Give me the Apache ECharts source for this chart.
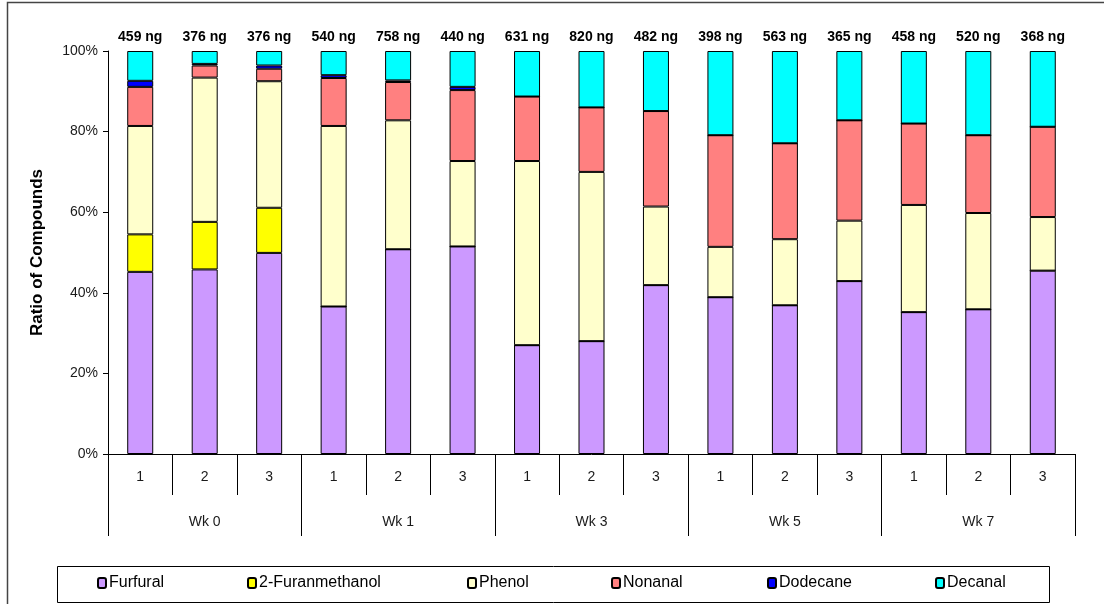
<!DOCTYPE html>
<html>
<head>
<meta charset="utf-8">
<script src="https://cdn.jsdelivr.net/npm/echarts@6/dist/echarts.min.js"></script>
<style>
  html, body { margin: 0; padding: 0; background: #fff; }
  #chart { width: 1104px; height: 604px; }
</style>
</head>
<body>
<div id="chart"></div>
<script>
// Replicate numbers within each week, and the week groups
const replicates = ['1', '2', '3', '1', '2', '3', '1', '2', '3', '1', '2', '3', '1', '2', '3'];
const weeks = ['Wk 0', 'Wk 1', 'Wk 3', 'Wk 5', 'Wk 7'];
// Total amount collected per sample (ng)
const totals = [459, 376, 376, 540, 758, 440, 631, 820, 482, 398, 563, 365, 458, 520, 368];

// Share of each compound in every sample (%)
const furfural        = [45.2, 45.8, 49.9, 36.6, 50.8, 51.5, 27.0, 28.0, 41.9, 38.9, 36.9, 42.9, 35.2, 35.9, 45.5];
const furanmethanol   = [9.3, 11.8, 11.2, 0, 0, 0, 0, 0, 0, 0, 0, 0, 0, 0, 0];
const phenol          = [26.9, 35.8, 31.4, 44.8, 32.0, 21.2, 45.7, 42.0, 19.5, 12.5, 16.4, 15.0, 26.6, 23.9, 13.3];
const nonanal         = [9.7, 3.0, 3.1, 11.9, 9.5, 17.6, 16.0, 16.0, 23.7, 27.7, 23.8, 24.9, 20.2, 19.3, 22.4];
const dodecane        = [1.5, 0.4, 0.8, 0.7, 0.4, 0.8, 0, 0, 0, 0, 0, 0, 0, 0, 0];
const decanal         = [7.4, 3.2, 3.6, 6.0, 7.3, 8.9, 11.3, 14.0, 14.9, 20.9, 22.9, 17.2, 18.0, 20.9, 18.8];

const compounds = [
  { name: 'Furfural',        data: furfural,      color: '#CC99FF' },
  { name: '2-Furanmethanol', data: furanmethanol, color: '#FFFF00' },
  { name: 'Phenol',          data: phenol,        color: '#FFFFCC' },
  { name: 'Nonanal',         data: nonanal,       color: '#FF8080' },
  { name: 'Dodecane',        data: dodecane,      color: '#0000FF' },
  { name: 'Decanal',         data: decanal,       color: '#00FFFF' }
];

const FONT = '"Liberation Sans", Arial, sans-serif';
const legendLeft = [97, 247, 467, 611, 767, 935];

const series = compounds.map((c, idx) => {
  const s = {
    name: c.name,
    type: 'bar',
    stack: 'ratio',
    barWidth: 26,
    data: c.data,
    itemStyle: { color: c.color, borderColor: '#000', borderWidth: 1 },
    emphasis: { disabled: true }
  };
  if (idx === compounds.length - 1) {
    s.label = {
      show: true,
      position: 'top',
      distance: 7,
      fontFamily: FONT,
      fontSize: 14,
      fontWeight: 'bold',
      color: '#000',
      formatter: p => totals[p.dataIndex] + ' ng'
    };
  }
  return s;
});

const legends = compounds.map((c, i) => ({
  data: [c.name],
  left: legendLeft[i],
  top: 575,
  padding: 0,
  itemWidth: 8,
  itemHeight: 10,
  selectedMode: false,
  textStyle: { fontFamily: FONT, fontSize: 16, color: '#000', padding: [0, 0, 0, -2] }
}));

const chart = echarts.init(document.getElementById('chart'), null, { renderer: 'canvas' });
chart.setOption({
  animation: false,
  backgroundColor: '#fff',
  grid: { left: 108, right: 29, top: 51, bottom: 150 },
  legend: legends,
  xAxis: [
    {
      type: 'category',
      data: replicates,
      position: 'bottom',
      axisLine: { show: true, lineStyle: { color: '#000', width: 1 } },
      axisTick: { show: true, interval: 0, length: 41, lineStyle: { color: '#000' } },
      axisLabel: { interval: 0, margin: 16, fontFamily: FONT, fontSize: 14, color: '#1a1a1a' }
    },
    {
      type: 'category',
      data: weeks,
      position: 'bottom',
      axisLine: { show: false },
      axisTick: { show: true, interval: 0, length: 82, lineStyle: { color: '#000' } },
      axisLabel: { interval: 0, margin: 61, fontFamily: FONT, fontSize: 14, color: '#1a1a1a' }
    }
  ],
  yAxis: {
    type: 'value',
    min: 0,
    max: 100,
    interval: 20,
    name: 'Ratio of Compounds',
    nameLocation: 'middle',
    nameGap: 62,
    nameRotate: 90,
    nameTextStyle: { fontFamily: FONT, fontSize: 17, fontWeight: 'bold', color: '#000' },
    axisLine: { show: true, lineStyle: { color: '#000', width: 1 } },
    axisTick: { show: true, length: 5, lineStyle: { color: '#000' } },
    splitLine: { show: false },
    axisLabel: { margin: 10, fontFamily: FONT, fontSize: 14, color: '#1a1a1a', formatter: '{value}%' }
  },
  graphic: [
    {
      type: 'rect',
      shape: { x: 7.5, y: 2.5, width: 1200, height: 700 },
      style: { fill: 'none', stroke: '#444', lineWidth: 1.5 },
      silent: true
    },
    {
      type: 'rect',
      shape: { x: 57.5, y: 566.5, width: 992, height: 36 },
      style: { fill: 'none', stroke: '#000', lineWidth: 1 },
      silent: true
    }
  ],
  series: series
});
</script>
</body>
</html>
